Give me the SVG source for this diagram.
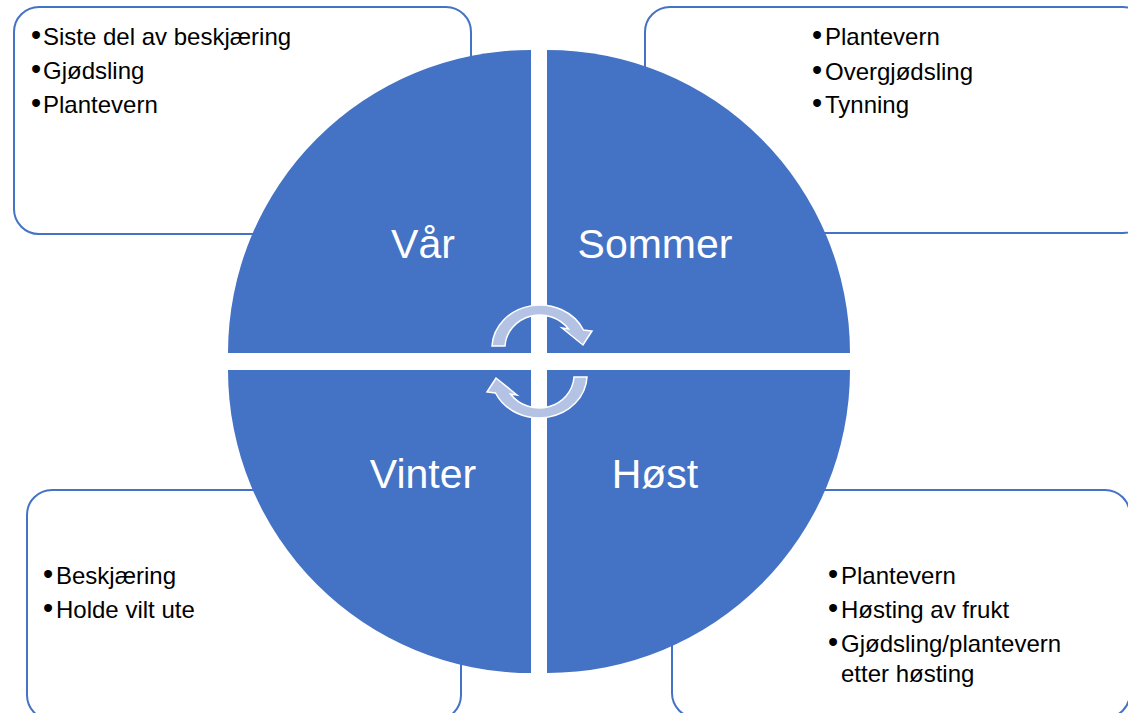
<svg xmlns="http://www.w3.org/2000/svg" width="1128" height="713" viewBox="0 0 1128 713">
  <style>
    .box { fill: #FFFFFF; stroke: #4472C4; stroke-width: 2; }
    .quad { fill: #4472C4; }
    .season { font-family: "Liberation Sans", Arial, sans-serif; font-size: 41px; fill: #FFFFFF; text-anchor: middle; }
    .item { font-family: "Liberation Sans", Arial, sans-serif; font-size: 24px; fill: #000000; }
    .dot { font-size: 29px; }
    .cyc { fill: #B4C2E3; stroke: #FFFFFF; stroke-width: 1.5; stroke-linejoin: miter; }
  </style>
  <rect width="1128" height="713" fill="#FFFFFF"/>

  <g id="box-var">
    <rect class="box" x="14" y="7" width="457" height="227" rx="25" ry="25"/>
    <text class="item"><tspan class="dot" x="31" y="45">•</tspan><tspan x="43" y="45">Siste del av beskjæring</tspan></text>
    <text class="item"><tspan class="dot" x="31" y="79">•</tspan><tspan x="43" y="79">Gjødsling</tspan></text>
    <text class="item"><tspan class="dot" x="31" y="113">•</tspan><tspan x="43" y="113">Plantevern</tspan></text>
  </g>

  <g id="box-sommer">
    <rect class="box" x="645" y="7" width="503" height="226" rx="25" ry="25"/>
    <text class="item"><tspan class="dot" x="812" y="45">•</tspan><tspan x="825" y="45">Plantevern</tspan></text>
    <text class="item"><tspan class="dot" x="812" y="80">•</tspan><tspan x="825" y="80">Overgjødsling</tspan></text>
    <text class="item"><tspan class="dot" x="812" y="113">•</tspan><tspan x="825" y="113">Tynning</tspan></text>
  </g>

  <g id="box-vinter">
    <rect class="box" x="27" y="490" width="434" height="230" rx="25" ry="25"/>
    <text class="item"><tspan class="dot" x="43" y="584">•</tspan><tspan x="56" y="584">Beskjæring</tspan></text>
    <text class="item"><tspan class="dot" x="43" y="618">•</tspan><tspan x="56" y="618">Holde vilt ute</tspan></text>
  </g>

  <g id="box-host">
    <rect class="box" x="672" y="490" width="458" height="228" rx="25" ry="25"/>
    <text class="item"><tspan class="dot" x="828" y="584">•</tspan><tspan x="841" y="584">Plantevern</tspan></text>
    <text class="item"><tspan class="dot" x="828" y="618">•</tspan><tspan x="841" y="618">Høsting av frukt</tspan></text>
    <text class="item"><tspan class="dot" x="828" y="652">•</tspan><tspan x="841" y="652">Gjødsling/plantevern</tspan></text>
    <text class="item"><tspan x="841" y="682">etter høsting</tspan></text>
  </g>

  <g id="quad-var">
    <path class="quad" d="M531,353 L228,353 A303,303 0 0 1 531,50 Z"/>
    <text class="season" x="423" y="258">Vår</text>
  </g>
  <g id="quad-sommer">
    <path class="quad" d="M547,353 L547,50 A303,303 0 0 1 850,353 Z"/>
    <text class="season" x="655" y="258">Sommer</text>
  </g>
  <g id="quad-host">
    <path class="quad" d="M547,370 L850,370 A303,303 0 0 1 547,673 Z"/>
    <text class="season" x="655" y="488">Høst</text>
  </g>
  <g id="quad-vinter">
    <path class="quad" d="M531,370 L531,673 A303,303 0 0 1 228,370 Z"/>
    <text class="season" x="423" y="488">Vinter</text>
  </g>

  <g id="connectors">
    <path id="cycle-top" class="cyc" d="M492,346 A48,43 0 0 1 583.5,330 L592,331 L583,345 L562,328 L568.5,329 A35,33 0 0 0 505,346 Z"/>
    <path id="cycle-bottom" class="cyc" transform="rotate(180 539.5 361.5)" d="M492,346 A48,43 0 0 1 583.5,330 L592,331 L583,345 L562,328 L568.5,329 A35,33 0 0 0 505,346 Z"/>
  </g>
</svg>
